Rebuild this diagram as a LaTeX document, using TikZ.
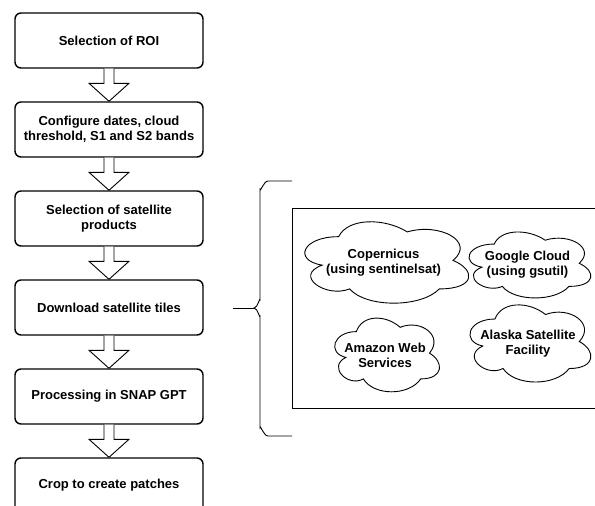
\documentclass[tikz,border=0pt]{standalone}
\usepackage{fontspec}
\setmainfont{Liberation Sans}
\usetikzlibrary{calc}
\tikzset{
  stepbox/.style={draw,line width=1.4pt,rounded corners=6pt,minimum width=188pt,minimum height=55pt,align=center,font=\bfseries\fontsize{13}{15}\selectfont},
  blockarrow/.style={draw,line width=0.9pt,fill=white,line join=miter},
  cloudtext/.style={inner sep=0pt,align=center,font=\bfseries\fontsize{13}{15}\selectfont},
  thinline/.style={draw,line width=0.9pt},
}
\newcommand{\flowarrow}[2]{%
  \draw[blockarrow] ($(#1.south)+(-5,0)$) -- ($(#2.north)+(-5,-18)$) -- ($(#2.north)+(-20,-18)$) -- (#2.north) -- ($(#2.north)+(20,-18)$) -- ($(#2.north)+(5,-18)$) -- ($(#1.south)+(5,0)$);}
% cloud outline (draw.io cloud) centred on a node; #2,#3 = outline frame width/height
\newcommand{\cloudshape}[3]{%
  \draw[thinline,shift={($(#1.center)+(-0.495*#2,-0.522*#3)$)},x=#2pt,y=-#3pt]
    (0.25,0.25) .. controls (0.05,0.25) and (0,0.5) .. (0.16,0.55)
    .. controls (0,0.66) and (0.18,0.9) .. (0.31,0.8)
    .. controls (0.4,1) and (0.7,1) .. (0.8,0.8)
    .. controls (1,0.8) and (1,0.6) .. (0.875,0.5)
    .. controls (1,0.3) and (0.8,0.1) .. (0.625,0.2)
    .. controls (0.5,0.05) and (0.3,0.05) .. (0.25,0.25) -- cycle;}
\begin{document}
\begin{tikzpicture}[x=1pt,y=-1pt]
\useasboundingbox (0,0) rectangle (595,506);
\clip (0,0) rectangle (595,506);
\fill[white] (0,0) rectangle (595,506);
\node[stepbox] (b1) at (109,40.5) {Selection of ROI};
\node[stepbox] (b2) at (109,129.5) {Configure dates, cloud\\threshold, S1 and S2 bands};
\node[stepbox] (b3) at (109,218.5) {Selection of satellite\\products};
\node[stepbox] (b4) at (109,307.5) {Download satellite tiles};
\node[stepbox] (b5) at (109,396.5) {Processing in SNAP GPT};
\node[stepbox] (b6) at (109,485.5) {Crop to create patches};
\flowarrow{b1}{b2}
\flowarrow{b2}{b3}
\flowarrow{b3}{b4}
\flowarrow{b4}{b5}
\flowarrow{b5}{b6}
% brace
\coordinate (bl) at (233,308);
\coordinate (btip) at (254,308);
\coordinate (btop) at (292,181);
\coordinate (bbot) at (292,436);
\draw[thinline] (bl) -- (btip);
\draw[thinline] (btop) -- (268,181) to[out=180,in=-90] (260,189) -- (260,300) to[out=90,in=0] (btip) to[out=0,in=-90] (260,316) -- (260,428) to[out=90,in=180] (268,436) -- (bbot);
% group rectangle
\node[thinline,minimum width=320pt,minimum height=200pt,anchor=north west,inner sep=0pt] (grp) at (292,208) {};
\node[cloudtext,minimum width=163pt,minimum height=81pt] (c1) at (383.5,262.5) {Copernicus\\(using sentinelsat)};
\node[cloudtext,minimum width=121pt,minimum height=66pt] (c2) at (527.5,265) {Google Cloud\\(using gsutil)};
\node[cloudtext,minimum width=104pt,minimum height=74pt] (c3) at (385,355) {Amazon Web\\Services};
\node[cloudtext,minimum width=120pt,minimum height=77pt] (c4) at (528,343.5) {Alaska Satellite\\Facility};
\cloudshape{c1}{183}{95}
\cloudshape{c2}{136}{77}
\cloudshape{c3}{117}{86}
\cloudshape{c4}{135}{90}
\end{tikzpicture}
\end{document}
